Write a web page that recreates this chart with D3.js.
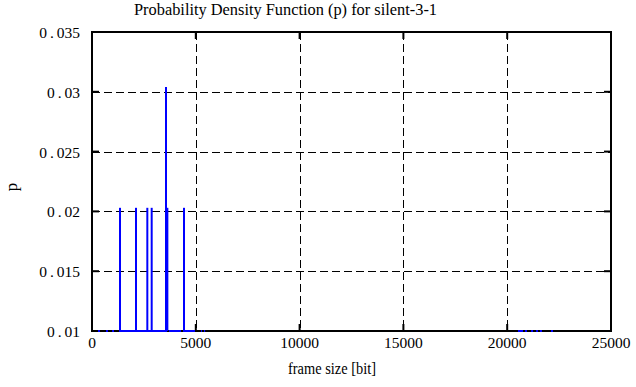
<!DOCTYPE html>
<html><head><meta charset="utf-8">
<script src="https://cdn.jsdelivr.net/npm/d3@7"></script>
<style>
body{margin:0;background:#fff;}
svg{display:block;}
</style></head>
<body>
<svg id="chart" width="636" height="387"></svg>
<script>
// ---- data ----
const titleText = "Probability Density Function (p) for silent-3-1";
const xLabel = "frame size [bit]";
const yLabel = "p";
const xTicks = [0, 5000, 10000, 15000, 20000, 25000];
const yTicks = [0.01, 0.015, 0.02, 0.025, 0.03, 0.035];
// visible impulses
const spikeSize = [1350, 2120, 2665, 2875, 3565, 3630, 4432];
const spikeP    = [0.0203, 0.0203, 0.0203, 0.0203, 0.0304, 0.0203, 0.0203];
// bins whose probability lies below the axis minimum (drawn clipped on the bottom edge)
const lowStart = [290, 675, 965, 1300, 3710, 4385, 5250, 5395, 20520, 20860, 21150, 21390, 21580, 22110];
const lowEnd   = [385, 770, 1060, 3615, 4290, 4960, 5300, 5450, 20760, 20955, 21245, 21485, 21675, 22205];
const lowP     = [0.001, 0.001, 0.001, 0.001, 0.001, 0.001, 0.001, 0.001, 0.001, 0.001, 0.001, 0.001, 0.001, 0.001];

// ---- layout ----
const FONT = "'Liberation Serif', 'Times New Roman', serif";
const L = 92, R = 611, T = 32, B = 331;
const svg = d3.select("#chart");
const x = d3.scaleLinear().domain([0, 25000]).range([L, R]);
const y = d3.scaleLinear().domain([0.01, 0.035]).range([B, T]).clamp(true);

// grid
const g = svg.append("g");
g.selectAll(".gx").data(xTicks.slice(1, -1)).join("line")
  .attr("x1", d => Math.round(x(d)) + 0.5).attr("x2", d => Math.round(x(d)) + 0.5).attr("y1", T).attr("y2", B)
  .attr("stroke", "#000").attr("stroke-width", 1).attr("stroke-dasharray", "8,4");
g.selectAll(".gy").data(yTicks.slice(1, -1)).join("line")
  .attr("x1", L).attr("x2", R).attr("y1", d => Math.round(y(d)) + 0.5).attr("y2", d => Math.round(y(d)) + 0.5)
  .attr("stroke", "#000").attr("stroke-width", 1).attr("stroke-dasharray", "8,4");

// ticks (inside, mirrored)
const tl = 7;
xTicks.forEach(d => {
  const xx = x(d);
  g.append("line").attr("x1", xx).attr("x2", xx).attr("y1", B).attr("y2", B - tl).attr("stroke", "#000").attr("stroke-width", 2);
  g.append("line").attr("x1", xx).attr("x2", xx).attr("y1", T).attr("y2", T + tl).attr("stroke", "#000").attr("stroke-width", 2);
});
yTicks.forEach(d => {
  const yy = y(d);
  g.append("line").attr("x1", L).attr("x2", L + tl).attr("y1", yy).attr("y2", yy).attr("stroke", "#000").attr("stroke-width", 2);
  g.append("line").attr("x1", R).attr("x2", R - tl).attr("y1", yy).attr("y2", yy).attr("stroke", "#000").attr("stroke-width", 2);
});

// border
svg.append("rect").attr("x", L).attr("y", T).attr("width", R - L).attr("height", B - T)
  .attr("fill", "none").attr("stroke", "#000").attr("stroke-width", 2);

// low bins along bottom
const lowData = lowStart.map((s, i) => ({s, e: lowEnd[i], p: lowP[i]}));
svg.append("g").selectAll("line").data(lowData).join("line")
  .attr("x1", d => x(d.s)).attr("x2", d => x(d.e))
  .attr("y1", d => y(d.p)).attr("y2", d => y(d.p))
  .attr("stroke", "#0000ff").attr("stroke-width", 2);

// impulses
const spikes = spikeSize.map((s, i) => ({s, p: spikeP[i]}));
svg.append("g").selectAll("line").data(spikes).join("line")
  .attr("x1", d => x(d.s)).attr("x2", d => x(d.s))
  .attr("y1", y(0.01)).attr("y2", d => y(d.p))
  .attr("stroke", "#0000ff").attr("stroke-width", 2);

// tick labels
const fmtY = d => String(+d.toFixed(3));
svg.append("g").selectAll("text").data(yTicks).join("text")
  .attr("font-family", FONT).attr("font-size", 15.5)
  .attr("x", 80).attr("y", d => y(d) + 6).attr("text-anchor", "end")
  .each(function(d) {
    const s = fmtY(d), i = s.indexOf(".");
    const t = d3.select(this);
    t.append("tspan").text(s.slice(0, i));
    t.append("tspan").attr("dx", 3).text(".");
    t.append("tspan").attr("dx", 3).text(s.slice(i + 1));
  });
svg.append("g").selectAll("text").data(xTicks).join("text")
  .attr("font-family", FONT).attr("font-size", 15.5)
  .attr("x", d => x(d)).attr("y", 348).attr("text-anchor", "middle")
  .text(d => String(d));

// titles
svg.append("text").attr("font-family", FONT).attr("font-size", 16)
  .attr("x", 134).attr("y", 15).attr("textLength", 303).attr("lengthAdjust", "spacingAndGlyphs").text(titleText);
svg.append("text").attr("font-family", FONT).attr("font-size", 16)
  .attr("x", 288).attr("y", 374).attr("textLength", 88).attr("lengthAdjust", "spacingAndGlyphs").text(xLabel);
svg.append("text").attr("font-family", FONT).attr("font-size", 17)
  .attr("transform", "translate(17,187) rotate(-90)").attr("text-anchor", "middle")
  .text(yLabel);
</script>
</body></html>
